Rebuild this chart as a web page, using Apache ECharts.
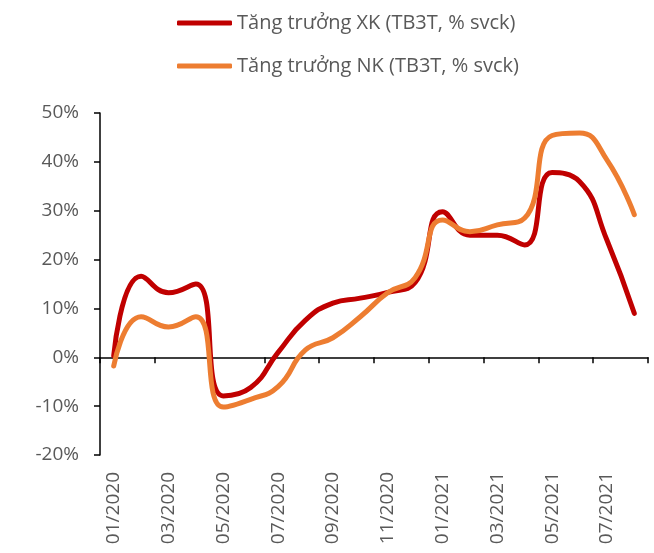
<!DOCTYPE html>
<html>
<head>
<meta charset="utf-8">
<script src="https://cdn.jsdelivr.net/npm/echarts@6/dist/echarts.min.js"></script>
<style>
    html, body { margin: 0; padding: 0; background: #fff; }
    #chart { width: 654px; height: 553px; }
</style>
</head>
<body>
<div id="chart"></div>
<script>
    // thang 01/2020 -> 08/2021
    var months = ['01/2020', '02/2020', '03/2020', '04/2020', '05/2020', '06/2020', '07/2020', '08/2020',
        '09/2020', '10/2020', '11/2020', '12/2020', '01/2021', '02/2021', '03/2021', '04/2021',
        '05/2021', '06/2021', '07/2021', '08/2021'];
    // tang truong XK, NK (TB3T, % svck)
    var xkValues = [0.3, 16.6, 13.2, 15.0, -7.9, -6.2, 1.0, 7.6, 11.1, 12.1, 13.3, 15.3,
        29.8, 25.0, 25.0, 23.0, 37.8, 36.0, 24.0, 9.0];
    var nkValues = [-1.8, 8.3, 6.2, 8.3, -10.2, -8.6, -6.0, 1.5, 4.0, 8.3, 13.2, 16.3,
        28.1, 25.7, 27.1, 28.5, 45.4, 45.9, 40.4, 29.2];
    var yTicks = { min: -20, max: 50, step: 10 };

    var textColor = '#595959';
    var fontName = '"Open Sans", "DejaVu Sans", sans-serif';

    var options = {
        animation: false,
        grid: { left: 100, right: 6, top: 113, bottom: 98 },
        legend: {
            orient: 'vertical',
            left: 177,
            top: 12,
            padding: 0,
            itemWidth: 55,
            itemHeight: 5,
            itemGap: 21,
            icon: 'roundRect',
            textStyle: { color: textColor, fontSize: 20, fontFamily: fontName, lineHeight: 22 },
            data: ['Tăng trưởng XK (TB3T, % svck)', 'Tăng trưởng NK (TB3T, % svck)']
        },
        xAxis: [
            {
                type: 'category',
                data: months,
                boundaryGap: true,
                axisLine: { onZero: true, lineStyle: { color: '#000', width: 1.5 } },
                axisTick: { show: true, interval: 1, length: 6, lineStyle: { color: '#000', width: 1.5 } },
                axisLabel: { show: false }
            },
            {
                type: 'category',
                data: months,
                position: 'bottom',
                boundaryGap: true,
                axisLine: { show: false, onZero: false },
                axisTick: { show: false },
                axisLabel: {
                    interval: 1,
                    rotate: 90,
                    margin: 17,
                    color: textColor,
                    fontSize: 19,
                    fontFamily: fontName
                }
            }
        ],
        yAxis: {
            type: 'value',
            min: yTicks.min,
            max: yTicks.max,
            interval: yTicks.step,
            splitLine: { show: false },
            axisLine: { show: true, lineStyle: { color: '#000', width: 1.5 } },
            axisTick: { show: true, length: 6, lineStyle: { color: '#000', width: 1.5 } },
            axisLabel: {
                formatter: '{value}%',
                margin: 21,
                color: textColor,
                fontSize: 19,
                fontFamily: fontName
            }
        },
        series: [
            {
                name: 'Tăng trưởng XK (TB3T, % svck)',
                type: 'line',
                xAxisIndex: 0,
                data: xkValues,
                smooth: 0.5,
                showSymbol: false,
                color: '#C00000',
                lineStyle: { width: 5, color: '#C00000', cap: 'round', join: 'round' }
            },
            {
                name: 'Tăng trưởng NK (TB3T, % svck)',
                type: 'line',
                xAxisIndex: 0,
                data: nkValues,
                smooth: 0.5,
                showSymbol: false,
                color: '#ED7D31',
                lineStyle: { width: 5, color: '#ED7D31', cap: 'round', join: 'round' }
            }
        ]
    };

    var myChart = echarts.init(document.getElementById('chart'));
    myChart.setOption(options);
</script>
</body>
</html>
